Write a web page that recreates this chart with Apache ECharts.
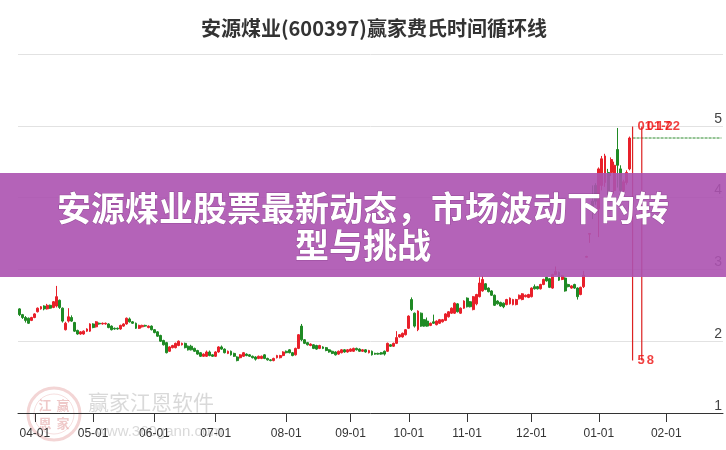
<!DOCTYPE html>
<html><head><meta charset="utf-8">
<script src="https://cdn.jsdelivr.net/npm/echarts/dist/echarts.min.js"></script>
<style>html,body{margin:0;padding:0;background:#fff}#c{width:726px;height:450px}</style>
</head><body><div id="c"></div>
<script>
// ---- axis categories ----
const monthNames = ['03','04','05','06','07','08','09','10','11','12','01','02'];
const monthDays  = [5,19,20,20,23,21,19,19,21,22,22,19];
const tickLabels = ['04-01','05-01','06-01','07-01','08-01','09-01','10-01','11-01','12-01','01-01','02-01'];

// ---- daily candles (open, close, low, high) ----
const opens = [
2.45,2.37,2.33,2.32,2.29,2.33,2.41,2.45,2.49,2.45,
2.50,2.47,2.49,2.57,2.46,2.16,2.28,2.33,2.26,2.15,
2.10,2.10,2.14,2.14,2.24,2.20,2.25,2.24,2.24,2.24,
2.21,2.18,2.18,2.17,2.21,2.24,2.31,2.27,2.25,2.18,
2.20,2.22,2.19,2.21,2.16,2.13,2.08,2.01,1.98,1.86,
1.91,1.91,1.94,1.95,1.97,1.93,1.93,1.90,1.87,1.84,
1.79,1.79,1.85,1.81,1.79,1.85,1.92,1.89,1.83,1.86,
1.83,1.78,1.77,1.79,1.82,1.81,1.79,1.78,1.76,1.76,
1.81,1.76,1.74,1.73,1.77,1.77,1.80,1.86,1.88,1.84,
1.81,1.90,2.21,2.02,1.98,1.94,1.95,1.94,1.90,1.92,
1.91,1.88,1.86,1.85,1.82,1.84,1.88,1.85,1.86,1.86,
1.90,1.89,1.86,1.88,1.84,1.86,1.83,1.83,1.84,1.86,
1.86,1.95,1.93,1.97,2.06,2.06,2.09,2.18,2.58,2.39,
2.16,2.39,2.30,2.28,2.22,2.27,2.23,2.25,2.27,2.29,
2.34,2.39,2.39,2.52,2.39,2.46,2.60,2.55,2.44,2.52,
2.62,2.70,2.80,2.74,2.70,2.64,2.56,2.54,2.53,2.51,
2.52,2.51,2.51,2.59,2.58,2.62,2.61,2.62,2.76,2.76,
2.73,2.79,2.89,2.87,2.74,2.93,2.96,2.86,2.88,2.79,
2.74,2.79,2.74,2.65,2.76,3.17,3.49,3.95,4.17,3.84,
4.17,4.21,4.35,4.35,4.10,4.67,4.40,4.10,4.21,4.40];
const closes = [
2.37,2.33,2.29,2.25,2.33,2.38,2.46,2.48,2.45,2.50,
2.46,2.55,2.62,2.47,2.28,2.25,2.34,2.28,2.14,2.10,
2.13,2.14,2.17,2.24,2.19,2.27,2.24,2.25,2.25,2.19,
2.16,2.17,2.17,2.22,2.24,2.32,2.27,2.25,2.18,2.22,
2.22,2.21,2.21,2.16,2.12,2.07,2.00,1.95,1.84,1.92,
1.94,1.97,2.00,1.97,1.91,1.88,1.88,1.86,1.82,1.79,
1.82,1.85,1.80,1.79,1.85,1.92,1.89,1.84,1.86,1.81,
1.79,1.73,1.81,1.84,1.80,1.79,1.77,1.75,1.79,1.79,
1.76,1.74,1.73,1.76,1.80,1.80,1.85,1.84,1.84,1.80,
1.90,2.09,2.02,1.97,1.95,1.96,1.90,1.89,1.94,1.90,
1.87,1.85,1.83,1.81,1.86,1.88,1.85,1.88,1.89,1.90,
1.88,1.86,1.88,1.85,1.87,1.81,1.82,1.82,1.82,1.82,
1.97,1.93,1.97,2.05,2.09,2.11,2.16,2.35,2.44,2.21,
2.42,2.21,2.21,2.21,2.25,2.25,2.28,2.30,2.30,2.38,
2.41,2.46,2.53,2.41,2.46,2.56,2.48,2.48,2.62,2.65,
2.81,2.86,2.72,2.69,2.64,2.50,2.52,2.49,2.48,2.58,
2.60,2.58,2.58,2.64,2.66,2.64,2.65,2.74,2.73,2.73,
2.79,2.86,2.84,2.75,2.93,2.97,2.85,2.91,2.70,2.76,
2.77,2.74,2.62,2.75,2.92,3.18,3.50,3.88,3.95,4.40,
4.54,4.58,4.00,4.53,4.45,4.45,4.10,4.22,4.35,4.83];
const lows = [
2.35,2.31,2.26,2.24,2.28,2.32,2.40,2.44,2.43,2.44,
2.45,2.46,2.47,2.45,2.26,2.15,2.26,2.27,2.13,2.09,
2.09,2.09,2.13,2.13,2.18,2.19,2.23,2.23,2.23,2.18,
2.15,2.16,2.16,2.16,2.20,2.23,2.26,2.24,2.17,2.17,
2.19,2.20,2.18,2.15,2.11,2.06,1.99,1.94,1.83,1.85,
1.90,1.90,1.93,1.94,1.90,1.87,1.87,1.85,1.81,1.78,
1.78,1.78,1.79,1.78,1.78,1.84,1.88,1.83,1.82,1.80,
1.78,1.72,1.76,1.78,1.79,1.78,1.76,1.73,1.75,1.75,
1.75,1.73,1.72,1.72,1.76,1.76,1.79,1.83,1.83,1.79,
1.80,1.89,2.00,1.96,1.94,1.93,1.89,1.88,1.89,1.89,
1.86,1.84,1.82,1.80,1.81,1.83,1.84,1.84,1.85,1.85,
1.87,1.85,1.85,1.84,1.83,1.80,1.81,1.81,1.81,1.80,
1.85,1.92,1.92,1.96,2.05,2.05,2.08,2.17,2.42,2.19,
2.14,2.20,2.20,2.20,2.21,2.24,2.22,2.24,2.26,2.28,
2.33,2.38,2.38,2.40,2.38,2.45,2.47,2.47,2.43,2.50,
2.61,2.69,2.71,2.68,2.63,2.49,2.51,2.48,2.46,2.50,
2.51,2.50,2.50,2.58,2.57,2.61,2.60,2.61,2.72,2.72,
2.72,2.78,2.83,2.74,2.73,2.92,2.84,2.85,2.69,2.75,
2.73,2.73,2.58,2.64,2.74,3.17,3.37,3.70,3.90,3.45,
4.10,4.15,3.95,4.30,4.05,4.14,4.05,4.05,4.18,4.38];
const highs = [
2.46,2.38,2.35,2.33,2.34,2.39,2.47,2.49,2.50,2.52,
2.51,2.56,2.77,2.58,2.47,2.27,2.46,2.36,2.27,2.16,
2.14,2.15,2.18,2.25,2.25,2.28,2.26,2.26,2.26,2.25,
2.22,2.19,2.19,2.23,2.25,2.33,2.33,2.28,2.26,2.23,
2.23,2.23,2.22,2.22,2.17,2.14,2.09,2.02,1.99,1.93,
1.95,1.98,2.01,1.98,1.98,1.94,1.95,1.91,1.88,1.85,
1.83,1.87,1.87,1.82,1.86,1.93,1.94,1.90,1.87,1.87,
1.84,1.79,1.82,1.85,1.83,1.82,1.80,1.79,1.80,1.80,
1.82,1.77,1.75,1.77,1.81,1.81,1.86,1.87,1.89,1.85,
1.91,2.10,2.24,2.03,1.99,1.97,1.96,1.95,1.95,1.93,
1.92,1.89,1.87,1.86,1.87,1.89,1.89,1.89,1.90,1.91,
1.91,1.90,1.89,1.89,1.88,1.87,1.84,1.84,1.85,1.87,
1.98,1.96,1.98,2.14,2.10,2.12,2.17,2.36,2.61,2.40,
2.43,2.40,2.31,2.33,2.26,2.37,2.29,2.31,2.31,2.39,
2.42,2.47,2.54,2.53,2.47,2.57,2.61,2.56,2.63,2.66,
2.89,2.91,2.81,2.75,2.71,2.65,2.57,2.55,2.54,2.59,
2.61,2.59,2.59,2.65,2.67,2.65,2.66,2.75,2.79,2.77,
2.80,2.87,2.90,2.88,2.94,3.04,2.97,2.92,2.89,2.80,
2.78,2.80,2.75,2.76,2.98,3.19,3.50,4.17,4.20,4.42,
4.58,4.61,4.40,4.56,4.50,4.97,4.45,4.25,4.38,4.85];

// ---- Fibonacci time cycle lines ----
const cycleIdx    = [200, 203];
const cycleDates  = ['01-17', '01-22'];
const cycleNums   = ['5', '8'];
const cycleTop    = 4.99;
const cycleBottom = 1.73;
const refLevel    = 4.83;   // horizontal reference (last close)
const refRange    = [200, 229];

// ---- build ----
const categories = [];
const monthStart = new Set();
monthNames.forEach((m, mi) => {
  for (let k = 0; k < monthDays[mi]; k++) {
    if (k === 0 && mi > 0) { monthStart.add(categories.length); categories.push(tickLabels[mi - 1]); }
    else categories.push(m + '-d' + (k + 1));
  }
});
const candleData = opens.map((o, i) => [o, closes[i], lows[i], highs[i]]);

const RED = '#e8202a', GREEN = '#1f8a24';
const series = [{
  type: 'candlestick', data: candleData, barWidth: 2.4,
  itemStyle: { color: RED, color0: GREEN, borderColor: RED, borderColor0: GREEN, borderWidth: 1 }
}];
cycleIdx.forEach((ix, k) => {
  series.push({
    type: 'line', data: [[ix, cycleBottom], [ix, cycleTop]], symbol: 'none',
    lineStyle: { color: '#dd2222', width: 1.2 }, z: 5, silent: true
  });
  series.push({
    type: 'scatter', symbol: 'circle', symbolSize: 2, itemStyle: { color: 'rgba(0,0,0,0)' }, z: 6, silent: true,
    label: { show: true, position: 'right', distance: 4, color: '#ee1111', fontWeight: 'bold', fontFamily: 'Liberation Sans' },
    data: [
      { value: [ix, cycleTop], label: { formatter: cycleDates[k], fontSize: 13 } },
      { value: [ix, cycleBottom], label: { formatter: cycleNums[k], fontSize: 13 } }
    ]
  });
});
series.push({
  type: 'line', data: [[refRange[0], refLevel], [refRange[1], refLevel]], symbol: 'none', z: 4, silent: true,
  lineStyle: { color: '#2c8a2c', width: 1, type: [3, 1] }
});

const chart = echarts.init(document.getElementById('c'), null, { renderer: 'canvas' });
chart.setOption({
  animation: false,
  backgroundColor: '#fff',
  title: {
    text: '安源煤业(600397)赢家费氏时间循环线', left: 196, top: 13,
    textStyle: { fontSize: 20, fontWeight: 'bold', color: '#333', fontFamily: 'Noto Sans CJK SC' }
  },
  grid: { left: 18, right: 3, top: 54, bottom: 37 },
  xAxis: {
    type: 'category', data: categories, boundaryGap: true,
    axisLine: { lineStyle: { color: '#333', width: 1 } },
    axisTick: { show: true, length: 9, alignWithLabel: true, interval: (i) => monthStart.has(i), lineStyle: { color: '#333' } },
    axisLabel: { interval: (i) => monthStart.has(i), margin: 15, fontSize: 12, color: '#333', fontFamily: 'Liberation Sans' },
    splitLine: { show: false }
  },
  yAxis: {
    type: 'value', position: 'right', min: 1, max: 6, interval: 1, scale: false,
    axisLine: { show: false }, axisTick: { show: false },
    axisLabel: { inside: true, margin: 1, verticalAlign: 'bottom', fontSize: 14, color: '#444', showMaxLabel: false, fontFamily: 'Liberation Sans' },
    splitLine: { lineStyle: { color: '#e2e2e2' } }
  },
  graphic: [
    // watermark
    { type: 'circle', shape: { cx: 54, cy: 414, r: 26 }, style: { fill: 'none', stroke: 'rgba(225,150,150,0.4)', lineWidth: 3 }, z: -1 },
    { type: 'circle', shape: { cx: 54, cy: 414, r: 20 }, style: { fill: 'none', stroke: 'rgba(225,150,150,0.3)', lineWidth: 1 }, z: -1 },
    { type: 'text', x: 45, y: 405, style: { text: '江', fill: 'rgba(215,120,120,0.4)', align: 'center', verticalAlign: 'middle', font: 'bold 13px "Noto Sans CJK SC"' }, z: -1 },
    { type: 'text', x: 63, y: 405, style: { text: '赢', fill: 'rgba(215,120,120,0.4)', align: 'center', verticalAlign: 'middle', font: 'bold 13px "Noto Sans CJK SC"' }, z: -1 },
    { type: 'text', x: 45, y: 423, style: { text: '恩', fill: 'rgba(215,120,120,0.4)', align: 'center', verticalAlign: 'middle', font: 'bold 13px "Noto Sans CJK SC"' }, z: -1 },
    { type: 'text', x: 63, y: 423, style: { text: '家', fill: 'rgba(215,120,120,0.4)', align: 'center', verticalAlign: 'middle', font: 'bold 13px "Noto Sans CJK SC"' }, z: -1 },
    { type: 'text', x: 88, y: 402, style: { text: '赢家江恩软件', fill: 'rgba(170,170,170,0.45)', align: 'left', verticalAlign: 'middle', font: '21px "Noto Sans CJK SC"' }, z: -1 },
    { type: 'text', x: 96, y: 432, style: { text: 'www.360gann.com', fill: 'rgba(170,170,170,0.45)', align: 'left', verticalAlign: 'middle', font: '15px "Liberation Sans"' }, z: -1 },
    // banner
    { type: 'rect', shape: { x: 0, y: 173, width: 726, height: 104 }, style: { fill: 'rgba(172,82,176,0.9)' }, z: 100 },
    { type: 'text', x: 363, y: 208, style: { text: '安源煤业股票最新动态，市场波动下的转', fill: '#fff', align: 'center', verticalAlign: 'middle', font: 'bold 34px "Noto Sans CJK SC"', stroke: 'rgba(90,30,90,0.35)', lineWidth: 1 }, z: 101 },
    { type: 'text', x: 363, y: 245, style: { text: '型与挑战', fill: '#fff', align: 'center', verticalAlign: 'middle', font: 'bold 34px "Noto Sans CJK SC"', stroke: 'rgba(90,30,90,0.35)', lineWidth: 1 }, z: 101 }
  ],
  series: series
});
</script></body></html>
